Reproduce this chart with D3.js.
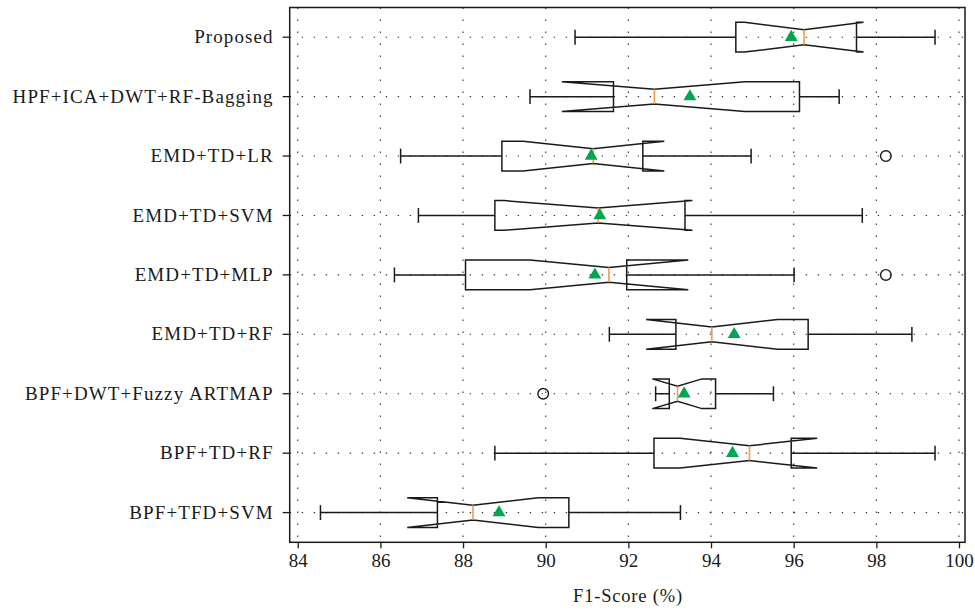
<!DOCTYPE html>
<html>
<head>
<meta charset="utf-8">
<script src="https://cdn.jsdelivr.net/npm/d3@7"></script>
<style>
  html, body { margin: 0; padding: 0; background: #fff; }
  svg { display: block; }
</style>
</head>
<body>
<svg id="chart" width="975" height="612"></svg>
<script>
const categories = ["Proposed", "HPF+ICA+DWT+RF-Bagging", "EMD+TD+LR", "EMD+TD+SVM", "EMD+TD+MLP",
  "EMD+TD+RF", "BPF+DWT+Fuzzy ARTMAP", "BPF+TD+RF", "BPF+TFD+SVM"];
const whiskerLow  = [90.71, 89.62, 86.49, 86.92, 86.34, 91.54, 92.66, 88.77, 84.55];
const q1          = [94.60, 91.64, 88.94, 88.77, 88.06, 93.15, 92.99, 92.62, 87.38];
const median      = [96.25, 92.63, 91.15, 91.27, 91.53, 94.02, 93.19, 94.93, 88.24];
const q3          = [97.52, 96.14, 92.35, 93.37, 91.96, 96.35, 94.11, 95.94, 90.56];
const whiskerHigh = [99.42, 97.10, 94.97, 97.66, 96.01, 98.86, 95.51, 99.42, 93.26];
const notchLow    = [94.81, 90.39, 89.45, 88.99, 89.62, 92.43, 92.58, 93.25, 86.65];
const notchHigh   = [97.69, 94.82, 92.87, 93.55, 93.45, 95.61, 93.78, 96.57, 89.82];
const means       = [95.94, 93.49, 91.10, 91.31, 91.19, 94.56, 93.35, 94.52, 88.87];
const outliers    = [[], [], [98.23], [], [98.23], [], [89.94], [], []];
const xTicks = [84, 86, 88, 90, 92, 94, 96, 98, 100];
const xLabel = "F1-Score (%)";

(function () {
const svg = d3.select("#chart");
const pL = 289.7, pR = 965, pT = 7.5, pB = 542.3;

const x = d3.scaleLinear().domain([83.806, 100.145]).range([pL, pR]);
const y = d3.scaleBand().domain(categories).range([pT, pB]).padding(0);
const bw = y.bandwidth() * 0.5;   // box width
const h = bw / 2;
const yc = c => y(c) + y.bandwidth() / 2;

const gridColor = "#333";
const dash = "1.4,10.6";

const grid = svg.append("g");
grid.selectAll("line.vx").data(xTicks).join("line")
  .attr("x1", d => x(d)).attr("x2", d => x(d))
  .attr("y1", pT).attr("y2", pB)
  .attr("stroke", gridColor).attr("stroke-width", 1.1).attr("stroke-dasharray", dash);
grid.selectAll("line.hy").data(categories).join("line")
  .attr("x1", pL).attr("x2", pR)
  .attr("y1", d => yc(d)).attr("y2", d => yc(d))
  .attr("stroke", gridColor).attr("stroke-width", 1.1).attr("stroke-dasharray", dash);

const rows = categories.map((c, i) => ({
  c, i, wl: whiskerLow[i], q1: q1[i], med: median[i], q3: q3[i], wh: whiskerHigh[i],
  nl: notchLow[i], nh: notchHigh[i], mean: means[i], out: outliers[i]
}));

const g = svg.append("g");
const lineCol = "#1a1a1a", lw = 1.5;

rows.forEach(r => {
  const cy = yc(r.c);
  g.append("line").attr("x1", x(r.wl)).attr("x2", x(r.q1)).attr("y1", cy).attr("y2", cy)
    .attr("stroke", lineCol).attr("stroke-width", lw);
  g.append("line").attr("x1", x(r.q3)).attr("x2", x(r.wh)).attr("y1", cy).attr("y2", cy)
    .attr("stroke", lineCol).attr("stroke-width", lw);
  [r.wl, r.wh].forEach(v => {
    g.append("line").attr("x1", x(v)).attr("x2", x(v)).attr("y1", cy - h / 2).attr("y2", cy + h / 2)
      .attr("stroke", lineCol).attr("stroke-width", lw);
  });
  const pts = [
    [x(r.q1), cy - h], [x(r.nl), cy - h], [x(r.med), cy - h / 2], [x(r.nh), cy - h], [x(r.q3), cy - h],
    [x(r.q3), cy + h], [x(r.nh), cy + h], [x(r.med), cy + h / 2], [x(r.nl), cy + h], [x(r.q1), cy + h]
  ];
  g.append("path").attr("d", d3.line()(pts) + "Z")
    .attr("fill", "none").attr("stroke", lineCol).attr("stroke-width", lw).attr("stroke-linejoin", "miter");
  g.append("line").attr("x1", x(r.med)).attr("x2", x(r.med)).attr("y1", cy - h / 2).attr("y2", cy + h / 2)
    .attr("stroke", "#f39a4f").attr("stroke-width", 1.6);
  g.append("path").attr("d", d3.symbol(d3.symbolTriangle, 72)())
    .attr("transform", `translate(${x(r.mean)},${cy})`).attr("fill", "#00a650");
  r.out.forEach(v => {
    g.append("circle").attr("cx", x(v)).attr("cy", cy).attr("r", 5.3)
      .attr("fill", "none").attr("stroke", lineCol).attr("stroke-width", 1.4);
  });
});

svg.append("rect").attr("x", pL).attr("y", pT).attr("width", pR - pL).attr("height", pB - pT)
  .attr("fill", "none").attr("stroke", "#1a1a1a").attr("stroke-width", 1.5);

const font = "'Liberation Serif', 'Times New Roman', serif";
const xAxis = svg.append("g").attr("transform", `translate(0,${pB})`)
  .call(d3.axisBottom(x).tickValues(xTicks).tickSize(6).tickPadding(5).tickFormat(d3.format("d")));
xAxis.select(".domain").remove();
xAxis.selectAll(".tick line").attr("stroke", "#1a1a1a").attr("stroke-width", 1.3);
xAxis.selectAll(".tick text").attr("font-family", font).attr("font-size", 19).attr("fill", "#1a1a1a");

const yAxis = svg.append("g").attr("transform", `translate(${pL},0)`)
  .call(d3.axisLeft(y).tickSize(7).tickPadding(9));
yAxis.select(".domain").remove();
yAxis.selectAll(".tick line").attr("stroke", "#1a1a1a").attr("stroke-width", 1.3);
yAxis.selectAll(".tick text").attr("font-family", font).attr("font-size", 19)
  .attr("letter-spacing", "1.1px").attr("fill", "#1a1a1a");

svg.append("text").attr("x", 628).attr("y", 602).attr("text-anchor", "middle")
  .attr("font-family", font).attr("font-size", 18.5).attr("letter-spacing", "0.8px")
  .attr("fill", "#1a1a1a").text(xLabel);
})();
</script>
</body>
</html>
